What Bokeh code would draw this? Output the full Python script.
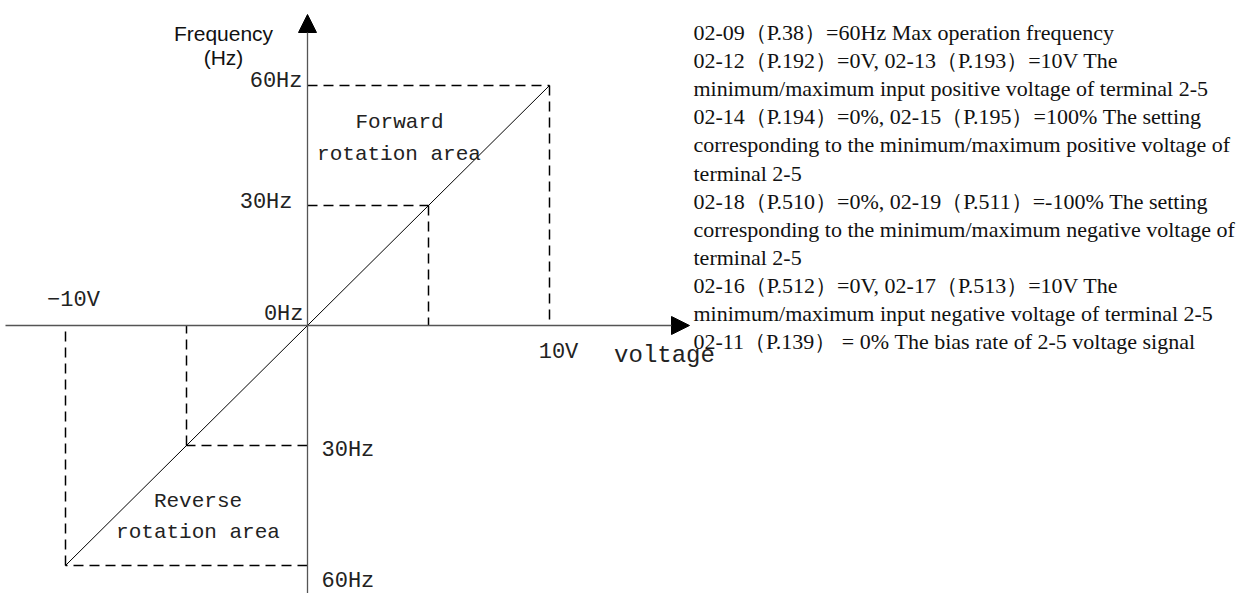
from bokeh.plotting import figure
from bokeh.models import Range1d, Arrow, NormalHead
from bokeh.core.properties import value
from bokeh.embed import file_html
from bokeh.resources import INLINE

# ---------------- data ----------------
VOLT_POINTS = [-10, -5, 5, 10]          # V
FREQ_POINTS = [-60, -30, 30, 60]        # Hz
CURVE_V = [-10, 10]
CURVE_F = [-60, 60]

FREQ_TICK_LABELS = ["60Hz", "30Hz", "0Hz", "30Hz", "60Hz"]
VOLT_TICK_LABELS = ["\u221210V", "10V"]
Y_TITLE = ["Frequency", "(Hz)"]
X_TITLE = "voltage"
AREA_LABELS = ["Forward", "rotation area", "Reverse", "rotation area"]

NOTES = [
    "02-09\uff08P.38\uff09=60Hz Max operation frequency",
    "02-12\uff08P.192\uff09=0V, 02-13\uff08P.193\uff09=10V The",
    "minimum/maximum input positive voltage of terminal 2-5",
    "02-14\uff08P.194\uff09=0%, 02-15\uff08P.195\uff09=100% The setting",
    "corresponding to the minimum/maximum positive voltage of",
    "terminal 2-5",
    "02-18\uff08P.510\uff09=0%, 02-19\uff08P.511\uff09=-100% The setting",
    "corresponding to the minimum/maximum negative voltage of",
    "terminal 2-5",
    "02-16\uff08P.512\uff09=0V, 02-17\uff08P.513\uff09=10V The",
    "minimum/maximum input negative voltage of terminal 2-5",
    "02-11\uff08P.139\uff09 = 0% The bias rate of 2-5 voltage signal",
]

# ---------------- layout ----------------
W, H = 1247, 593
OX, OY = 307, 325          # origin in pixels
PXV, PXF = 24.2, 4.0       # pixels per volt / per Hz


def vx(px):  # pixel x -> volts
    return (px - OX) / PXV


def fy(py):  # pixel y -> Hz
    return (OY - py) / PXF


p = figure(width=W, height=H, output_backend="svg", toolbar_location=None,
           x_range=Range1d(-OX / PXV, (W - OX) / PXV),
           y_range=Range1d(-(H - OY) / PXF, OY / PXF),
           x_axis_type=None, y_axis_type=None, min_border=0,
           outline_line_color=None, background_fill_color="white",
           border_fill_color="white")
p.xgrid.visible = False
p.ygrid.visible = False

# dashed guide lines
x0, y0, x1, y1 = [], [], [], []
for v, f in zip(VOLT_POINTS, FREQ_POINTS):
    x0 += [0, v]; y0 += [f, f]; x1 += [v, v]; y1 += [f, 0]
p.segment(x0, y0, x1, y1, line_color="black", line_width=1.5, line_dash="10 6")

# characteristic line
p.line(CURVE_V, CURVE_F, line_color="black", line_width=1)

# axes with arrows
head_kw = dict(size=18, fill_color="black", line_color="black")
p.add_layout(Arrow(x_start=vx(5), y_start=0, x_end=vx(689), y_end=0,
                   end=NormalHead(**head_kw), line_color="#555555", line_width=1.3))
p.add_layout(Arrow(x_start=0, y_start=fy(600), x_end=0, y_end=fy(14),
                   end=NormalHead(**head_kw), line_color="#555555", line_width=1.3))

mono = value("Liberation Mono")
serif = value("Liberation Serif")
sans = value("Liberation Sans")

# y title
p.text(x=[vx(223), vx(223)], y=[fy(33), fy(57)], text=Y_TITLE, text_font=sans,
       text_font_size="21px", text_align="center", text_baseline="middle",
       text_color="#111111")

# frequency tick labels
p.text(x=[vx(302), vx(292), vx(303)], y=[fy(81), fy(202), fy(313.5)],
       text=FREQ_TICK_LABELS[:3], text_font=mono, text_font_size="22px",
       text_align="right", text_baseline="middle", text_color="#222222")
p.text(x=[vx(321), vx(321)], y=[fy(450), fy(581)],
       text=FREQ_TICK_LABELS[3:], text_font=mono, text_font_size="22px",
       text_align="left", text_baseline="middle", text_color="#222222")

# voltage tick labels
p.text(x=[vx(73), vx(558)], y=[fy(300), fy(351.5)], text=VOLT_TICK_LABELS,
       text_font=mono, text_font_size="22px", text_align="center",
       text_baseline="middle", text_color="#222222")

# x title
p.text(x=[vx(664)], y=[fy(355)], text=[X_TITLE], text_font=mono,
       text_font_size="24px", text_align="center", text_baseline="middle",
       text_color="#222222")

# area labels
p.text(x=[vx(399), vx(398.5), vx(197.5), vx(197.5)],
       y=[fy(121.5), fy(154), fy(501), fy(532)], text=AREA_LABELS,
       text_font=mono, text_font_size="21px", text_align="center",
       text_baseline="middle", text_color="#222222")

# notes block
p.text(x=[vx(693)] * len(NOTES), y=[fy(32 + 28.1 * i) for i in range(len(NOTES))],
       text=NOTES, text_font=serif, text_font_size="22px", text_align="left",
       text_baseline="middle", text_color="#111111")

open("out.html", "w").write(file_html(p, INLINE))
